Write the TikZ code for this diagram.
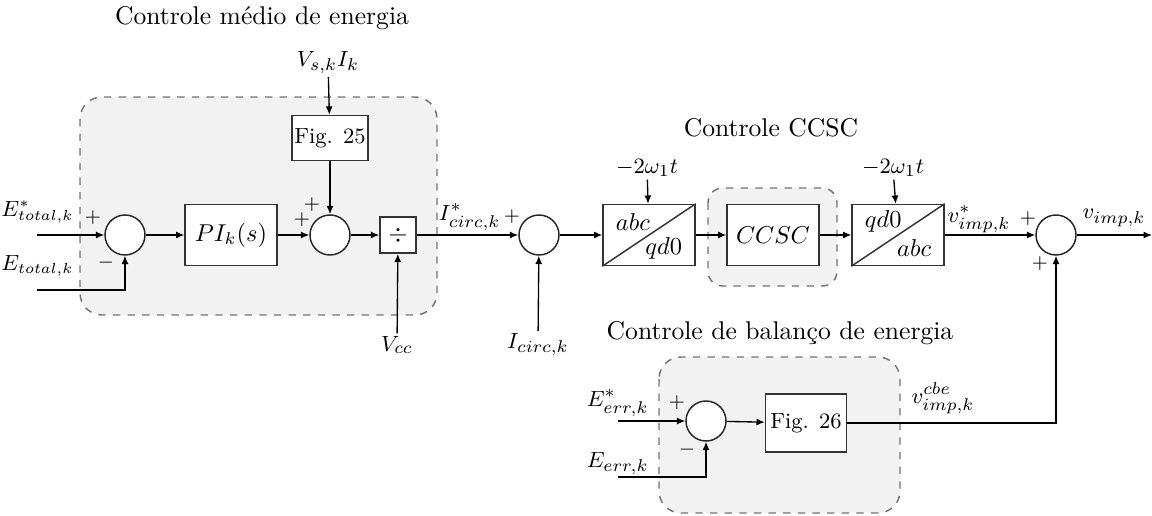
\documentclass[tikz,border=0pt]{standalone}
\usepackage{amsmath,amssymb}
\usepackage{tikz}
\usetikzlibrary{arrows.meta,calc,positioning}

\tikzset{
  blk/.style={draw=black!80,fill=white,line width=0.6pt,minimum width=37.7pt,minimum height=25pt,inner sep=1pt},
  sumc/.style={draw=black!85,fill=white,circle,line width=0.6pt,minimum size=16.4pt,inner sep=0pt},
  grp/.style={draw=black!55,dashed,fill=black!5,line width=0.6pt,rounded corners=9pt},
  ttl/.style={font=\fontsize{10.5}{12.6}\selectfont},
  fig/.style={font=\fontsize{9}{11}\selectfont},
  lab/.style={font=\fontsize{9.4}{11}\selectfont,inner sep=1pt},
  sig/.style={font=\footnotesize,inner sep=0pt},
  lnk/.style={line width=0.55pt,-{Latex[length=3.4pt,width=2.9pt]}},
}

\begin{document}
\begin{tikzpicture}[x=0.41pt,y=-0.41pt]
\useasboundingbox (0,0) rectangle (1152,516);
% groups
\draw[grp] (80,97) rectangle (437,315);
\draw[grp,rounded corners=6pt] (708,188) rectangle (837,286);
\draw[grp] (659,357) rectangle (900,513);
\node[ttl] at (262,18) {Controle médio de energia};
\node[ttl] at (771,128) {Controle CCSC};
\node[ttl] at (780,333) {Controle de balanço de energia};
% blocks
\node[sumc] (s1) at (125,235) {};
\node[blk] (pi) at (231,235) {$PI_k(s)$};
\node[blk,fig,minimum width=30.8pt,minimum height=18.5pt] (f25) at (330,138) {Fig. 25};
\node[sumc] (s2) at (330,235) {};
\node[blk,minimum width=14.8pt,minimum height=14.8pt] (dv) at (398,235) {$\div$};
\node[sumc] (s3) at (539,235) {};
\node[blk] (t1) at (649,235) {};
\node[blk] (cc) at (773,235) {$CCSC$};
\node[blk] (t2) at (898,235) {};
\node[sumc] (s4) at (1056,235) {};
\node[sumc] (s5) at (706,421) {};
\node[blk,fig,minimum width=33.2pt,minimum height=23.8pt] (f26) at (806,423) {Fig. 26};
\draw[line width=0.6pt,black!80] (t1.south west)--(t1.north east) (t2.south west)--(t2.north east);
\node[anchor=west] at ($(t1.north west)+(5,18)$) {$abc$};
\node[anchor=east] at ($(t1.south east)+(-5,-18)$) {$qd0$};
\node[anchor=west] at ($(t2.north west)+(5,18)$) {$qd0$};
\node[anchor=east] at ($(t2.south east)+(-5,-18)$) {$abc$};
% signals
\node[lab,font=\fontsize{9}{11}\selectfont,anchor=east,inner sep=0pt] (etr) at (74,212) {$E^*_{total,k}$};
\node[lab,font=\fontsize{9}{11}\selectfont,anchor=east,inner sep=0pt] (et) at (74,266) {$E_{total,k}$};
\node[lab] (vsi) at (328,63) {$V_{s,k}I_k$};
\node[lab] (vcc) at (397,345) {$V_{cc}$};
\node[lab,anchor=east,inner sep=0pt] (icr) at (501,217) {$I^*_{circ,k}$};
\node[lab] (ic) at (538,345) {$I_{circ,k}$};
\node[lab] (w1) at (647,168) {$-2\omega_1 t$};
\node[lab] (w2) at (893,168) {$-2\omega_1 t$};
\node[lab,anchor=east,inner sep=0pt] (vir) at (1011,219) {$v^*_{imp,k}$};
\node[lab,anchor=west,inner sep=0pt] (vi) at (1082,218) {$v_{imp,k}$};
\node[lab,anchor=east,inner sep=0pt] (eer) at (649,403) {$E^*_{err,k}$};
\node[lab,anchor=east,inner sep=0pt] (ee) at (649,464) {$E_{err,k}$};
\node[lab] (vcb) at (943,398) {$v^{cbe}_{imp,k}$};
\coordinate (a1) at (37,235);
\coordinate (a2) at (37,290);
\coordinate (a3) at (618,421);
\coordinate (a4) at (618,477);
\coordinate (o1) at (1152,235);
% connectors
\draw[lnk] (a1)--(s1);
\draw[lnk] (a2)-|(s1);
\draw[lnk] (s1)--(pi);
\draw[lnk] (pi)--(s2);
\draw[lnk] (vsi)--(f25);
\draw[lnk] (f25)--(s2);
\draw[lnk] (s2)--(dv);
\draw[lnk] (vcc)--(dv);
\draw[lnk] (dv)--(s3);
\draw[lnk] (ic)--(s3);
\draw[lnk] (s3)--(t1);
\draw[lnk] (w1)--(t1);
\draw[lnk] (t1)--(cc);
\draw[lnk] (cc)--(t2);
\draw[lnk] (w2)--(t2);
\draw[lnk] (t2)--(s4);
\draw[lnk] (s4)--(o1);
\draw[lnk] (a3)--(s5);
\draw[lnk] (a4)-|(s5);
\draw[lnk] (s5)--(f26);
\draw[lnk] (f26)-|(s4);
% signs
\node[sig] at (93,218) {$+$};
\node[sig] at (106,263) {$-$};
\node[sig] at (302,220) {$+$};
\node[sig] at (312,205) {$+$};
\node[sig] at (512,217) {$+$};
\node[sig] at (1028,219) {$+$};
\node[sig] at (1040,264) {$+$};
\node[sig] at (677,403) {$+$};
\node[sig] at (687,450) {$-$};
\end{tikzpicture}
\end{document}
